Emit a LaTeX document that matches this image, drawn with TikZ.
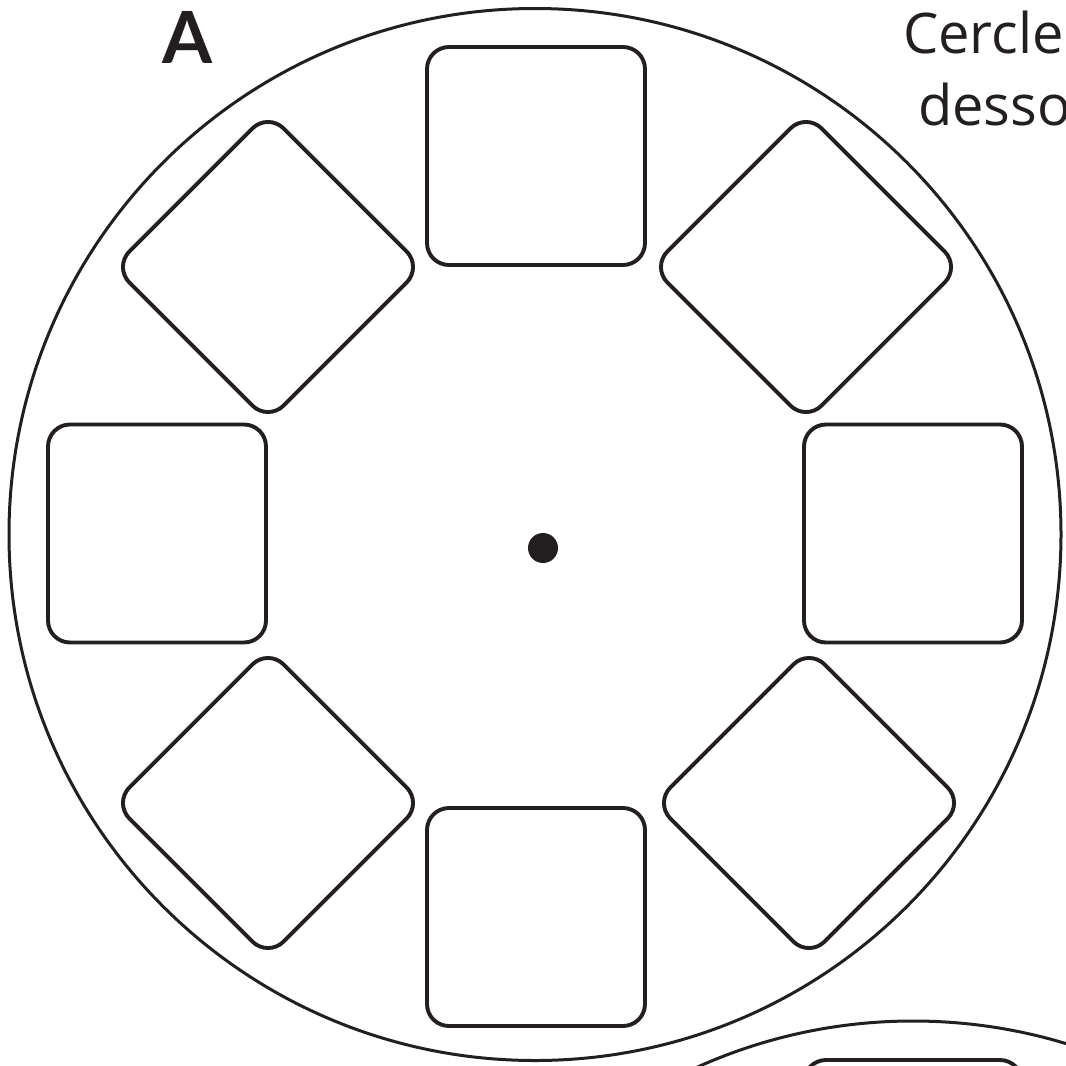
\documentclass[tikz,border=0pt]{standalone}
\usepackage{fontspec}
\setmainfont{Lato}
\newfontfamily\capfont{Open Sans}
\definecolor{ink}{HTML}{231F20}
\begin{document}
\begin{tikzpicture}[x=1pt,y=-1pt,
  tile/.style={draw=ink, line width=3.9pt, rounded corners=22pt,
    minimum width=218pt, minimum height=218pt, inner sep=0pt, outer sep=0pt},
  diamondtile/.style={tile, rotate=45},
  wheel/.style={circle, draw=ink, line width=3pt, minimum size=1052pt, inner sep=0pt},
  caption/.style={anchor=base west, inner sep=0pt, text=ink, font=\capfont\fontsize{56}{60}\selectfont},
  letter/.style={anchor=base, inner sep=0pt, text=ink, font=\bfseries\fontsize{72}{80}\selectfont}]
\useasboundingbox (0,0) rectangle (1066,1066);
\clip (0,0) rectangle (1066,1066);
% main wheel
\node[wheel] (wheelA) at (535,534.5) {};
\node[tile] (sqN) at (536,156) {};
\node[tile] (sqS) at (536,917) {};
\node[tile] (sqW) at (157,533.5) {};
\node[tile] (sqE) at (913,533.5) {};
\node[diamondtile] (dNW) at (268,267) {};
\node[diamondtile] (dNE) at (806,267) {};
\node[diamondtile] (dSW) at (268,803) {};
\node[diamondtile] (dSE) at (809,803) {};
\node[circle, fill=ink, minimum size=30pt, inner sep=0pt] (hub) at (543,548) {};
% second wheel (partly shown)
\node[wheel] (wheelB) at (913,1547) {};
\node[tile] (sqB) at (913,1169) {};
% texts
\node[letter] (labA) at (188,63) {A};
\node[caption] (cap1) at (903,53) {Cercle};
\node[caption] (cap2) at (918,125) {desso};
\end{tikzpicture}
\end{document}
